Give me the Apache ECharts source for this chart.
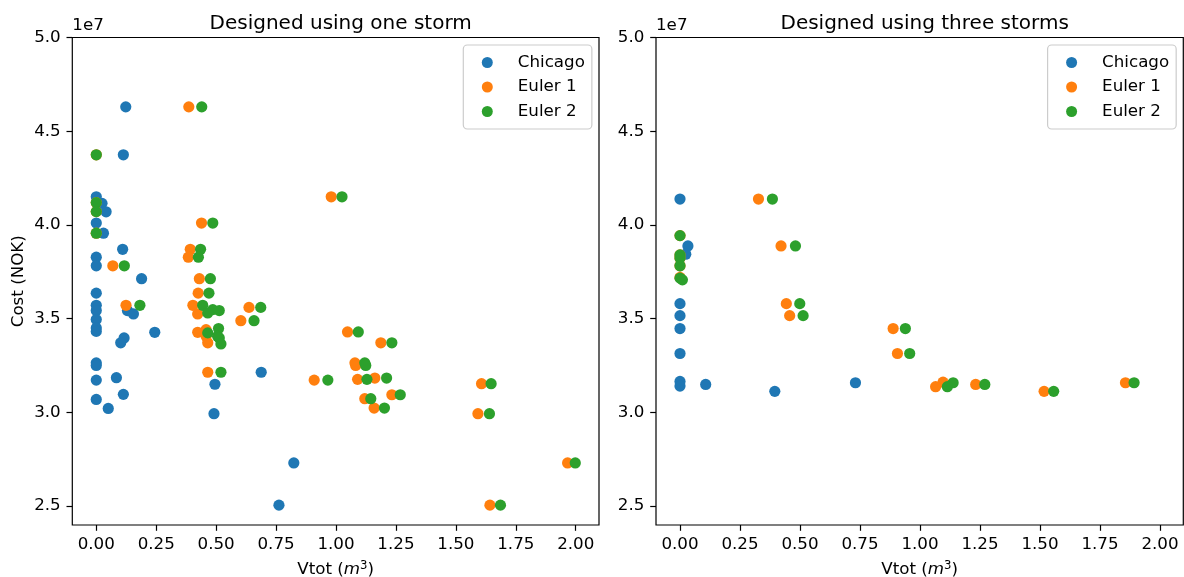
<!DOCTYPE html>
<html>
<head>
<meta charset="utf-8">
<script src="https://cdn.jsdelivr.net/npm/echarts@6.0.0/dist/echarts.min.js"></script>
<style>
html,body{margin:0;padding:0;background:#fff;}
#chart{width:1184px;height:577px;}
</style>
</head>
<body>
<div id="chart"></div>
<script>
// Values: x = Vtot (m^3), y = Cost in units of 1e7 NOK
const seriesNames = ['Chicago', 'Euler 1', 'Euler 2'];
const panelTitles = ['Designed using one storm', 'Designed using three storms'];
const xTicks = [0, 0.25, 0.5, 0.75, 1.0, 1.25, 1.5, 1.75, 2.0];
const yTicks = [2.5, 3.0, 3.5, 4.0, 4.5, 5.0];

const oneChicago = [[0.123,4.63],[0.113,4.374],[0,4.15],[0.024,4.115],[0.041,4.07],[0,4.01],[0.03,3.956],[0.11,3.87],[0,3.828],[0,3.782],[0.189,3.713],[0,3.636],[0,3.571],[0,3.543],[0.13,3.543],[0.155,3.525],[0,3.495],[0,3.45],[0,3.432],[0.244,3.427],[0.116,3.397],[0.102,3.371],[0,3.264],[0,3.25],[0.688,3.214],[0.084,3.185],[0,3.172],[0.495,3.15],[0.113,3.096],[0,3.069],[0.05,3.021],[0.491,2.993],[0.824,2.73],[0.762,2.505]];
const oneEuler1 = [[0.386,4.63],[0,4.374],[0.98,4.15],[0,4.119],[0,4.071],[0.439,4.01],[0,3.956],[0.392,3.87],[0.384,3.828],[0.069,3.782],[0.43,3.713],[0.425,3.636],[0.124,3.571],[0.403,3.571],[0.637,3.56],[0.423,3.525],[0.603,3.489],[0.458,3.441],[1.048,3.429],[0.423,3.427],[0.458,3.406],[0.465,3.371],[1.187,3.371],[1.079,3.264],[1.082,3.25],[0.465,3.214],[1.162,3.183],[1.09,3.176],[0.909,3.172],[1.607,3.153],[1.233,3.094],[1.12,3.073],[1.159,3.023],[1.592,2.993],[1.966,2.73],[1.642,2.505]];
const oneEuler2 = [[0.44,4.63],[0,4.374],[1.025,4.15],[0,4.119],[0,4.071],[0.486,4.01],[0,3.956],[0.435,3.87],[0.426,3.828],[0.117,3.782],[0.476,3.713],[0.47,3.636],[0.182,3.571],[0.444,3.571],[0.686,3.56],[0.486,3.548],[0.513,3.543],[0.465,3.53],[0.658,3.489],[0.51,3.447],[1.093,3.429],[0.465,3.424],[0.506,3.406],[0.513,3.397],[0.52,3.365],[1.233,3.371],[1.12,3.264],[1.124,3.25],[0.52,3.214],[1.211,3.183],[1.129,3.176],[0.966,3.172],[1.647,3.153],[1.268,3.094],[1.145,3.073],[1.202,3.023],[1.64,2.993],[1.998,2.73],[1.686,2.505]];

const threeChicago = [[0,4.138],[0.033,3.888],[0.024,3.844],[0,3.58],[0,3.516],[0,3.447],[0,3.314],[0,3.165],[0,3.14],[0.107,3.149],[0.395,3.112],[0.731,3.158]];
const threeEuler1 = [[0.327,4.138],[0,3.943],[0.421,3.888],[0,3.84],[0,3.823],[0,3.782],[0,3.72],[0.443,3.58],[0.457,3.516],[0.888,3.447],[0.906,3.314],[1.096,3.161],[1.065,3.137],[1.232,3.149],[1.517,3.112],[1.856,3.158]];
const threeEuler2 = [[0.385,4.138],[0,3.943],[0.481,3.888],[0,3.84],[0,3.823],[0,3.782],[0,3.716],[0.01,3.707],[0.499,3.58],[0.513,3.516],[0.939,3.447],[0.957,3.314],[1.138,3.158],[1.114,3.137],[1.27,3.149],[1.557,3.112],[1.892,3.158]];

const colors = ['#1f77b4', '#ff7f0e', '#2ca02c'];
const FONT = 'DejaVu Sans';
const FS = 16.7;

const grids = [
  {left: 72.3, top: 37.5, width: 526.7, height: 487.5},
  {left: 656, top: 37.5, width: 527.3, height: 487.5}
];

function xAxisOf(i) {
  return {
    type: 'value', gridIndex: i, min: -0.1, max: 2.097,
    splitLine: {show: false},
    axisLine: {show: false, onZero: false},
    axisTick: {show: true, customValues: xTicks, length: 5.8, lineStyle: {color: '#000', width: 1.2}},
    axisLabel: {customValues: xTicks, margin: 11.6, color: '#000', fontFamily: FONT, fontSize: FS,
      formatter: v => v.toFixed(2)},
    name: '{n|Vtot (}{i|m}{s|3}{n|)}',
    nameLocation: 'middle', nameGap: 35,
    nameTextStyle: {
      rich: {
        n: {fontFamily: FONT, fontSize: FS, color: '#000'},
        i: {fontFamily: FONT, fontSize: FS, fontStyle: 'italic', color: '#000'},
        s: {fontFamily: FONT, fontSize: FS * 0.7, color: '#000', verticalAlign: 'top', padding: [0, 0, 8, 0]}
      }
    }
  };
}
function yAxisOf(i) {
  return {
    type: 'value', gridIndex: i, min: 2.399, max: 5.0,
    splitLine: {show: false},
    axisLine: {show: false, onZero: false},
    axisTick: {show: true, customValues: yTicks, length: 5.8, lineStyle: {color: '#000', width: 1.2}},
    axisLabel: {customValues: yTicks, margin: 11.6, color: '#000', fontFamily: FONT, fontSize: FS,
      formatter: v => v.toFixed(1)},
    name: i === 0 ? 'Cost (NOK)' : '',
    nameLocation: 'middle', nameGap: 45,
    nameTextStyle: {fontFamily: FONT, fontSize: FS, color: '#000'}
  };
}

const panelData = [[oneChicago, oneEuler1, oneEuler2], [threeChicago, threeEuler1, threeEuler2]];
const series = [];
panelData.forEach((sets, p) => {
  sets.forEach((d, k) => {
    series.push({
      type: 'scatter', name: seriesNames[k], xAxisIndex: p, yAxisIndex: p,
      data: d, symbol: 'circle', symbolSize: 11.2,
      itemStyle: {color: colors[k], opacity: 1},
      emphasis: {disabled: true},
      z: 2 + k
    });
  });
});

function legendOf(left) {
  return {
    data: seriesNames.map(n => ({name: n, icon: 'circle'})),
    orient: 'vertical', left: left, top: 45,
    itemWidth: 11, itemHeight: 11, itemGap: 7.5,
    padding: [9, 7, 9, 18.5],
    backgroundColor: 'rgba(255,255,255,0.8)',
    borderColor: '#cccccc', borderWidth: 1.2, borderRadius: 4,
    textStyle: {fontFamily: FONT, fontSize: FS, color: '#000', padding: [0, 0, 0, 20]},
    selectedMode: false
  };
}

const option = {
  animation: false,
  backgroundColor: '#fff',
  color: colors,
  grid: grids.map(g => Object.assign({show: true, borderColor: '#000', borderWidth: 1.2, backgroundColor: 'transparent', containLabel: false, outerBoundsMode: 'none'}, g)),
  xAxis: [xAxisOf(0), xAxisOf(1)],
  yAxis: [yAxisOf(0), yAxisOf(1)],
  title: panelTitles.map((t, i) => ({
    text: t, left: grids[i].left + grids[i].width / 2, top: 9, textAlign: 'center',
    textStyle: {fontFamily: FONT, fontSize: 20, fontWeight: 'normal', color: '#000'}
  })),
  legend: [legendOf(463.3), legendOf(1047.6)],
  graphic: grids.map(g => ({
    type: 'text', left: g.left, top: 17,
    style: {text: '1e7', font: FS + 'px "' + FONT + '"', fill: '#000'}
  })),
  series: series
};

const chart = echarts.init(document.getElementById('chart'), null, {renderer: 'canvas'});
chart.setOption(option);
</script>
</body>
</html>
